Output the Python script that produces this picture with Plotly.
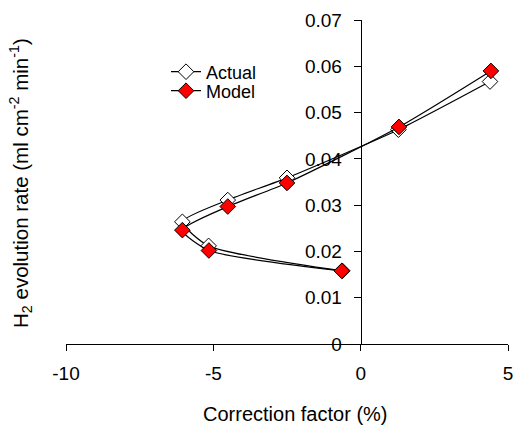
import plotly.graph_objects as go

# Data (ordered by H2 evolution rate)
actual_x = [-0.62, -5.16, -6.05, -4.51, -2.50, 1.28, 4.39]
actual_y = [0.0158, 0.0212, 0.0264, 0.0311, 0.0359, 0.0463, 0.0567]
model_x = [-0.64, -5.15, -6.05, -4.51, -2.50, 1.30, 4.42]
model_y = [0.0158, 0.0202, 0.0246, 0.0297, 0.0348, 0.0469, 0.0590]

x_ticks = [-10, -5, 0, 5]
x_tick_labels = ["-10", "-5", "0", "5"]
y_ticks = [0, 0.01, 0.02, 0.03, 0.04, 0.05, 0.06, 0.07]
y_tick_labels = ["0", "0.01", "0.02", "0.03", "0.04", "0.05", "0.06", "0.07"]

FONT = "Liberation Sans, Arial, sans-serif"

W, H = 515, 425
ML, MR, MT, MB = 66, 7, 20, 81
pw = W - ML - MR
ph = H - MT - MB


def px_x(p):
    return (p - ML) / pw


def px_y(p):
    return (H - MB - p) / ph


fig = go.Figure()
fig.add_trace(go.Scatter(
    x=actual_x, y=actual_y, name="Actual", mode="lines+markers", legend="legend",
    line=dict(color="black", width=1.2, shape="spline", smoothing=0.6),
    marker=dict(symbol="diamond", size=12, color="white", line=dict(color="black", width=1)),
))
fig.add_trace(go.Scatter(
    x=model_x, y=model_y, name="Model", mode="lines+markers", legend="legend2",
    line=dict(color="black", width=1.2, shape="spline", smoothing=0.6),
    marker=dict(symbol="diamond", size=12, color="red", line=dict(color="black", width=1)),
))

leg_common = dict(xanchor="left", yanchor="middle", bgcolor="rgba(0,0,0,0)",
                  font=dict(size=18), borderwidth=0)

fig.update_layout(
    width=W, height=H,
    margin=dict(l=ML, r=MR, t=MT, b=MB, autoexpand=False),
    paper_bgcolor="white", plot_bgcolor="white",
    font=dict(family=FONT, size=18, color="black"),
    showlegend=True,
    legend=dict(x=px_x(166), y=px_y(72), **leg_common),
    legend2=dict(x=px_x(166), y=px_y(91), **leg_common),
    xaxis=dict(range=[-10, 5], tickvals=x_ticks, ticktext=x_tick_labels,
               showgrid=False, zeroline=False, automargin=False,
               showline=True, linecolor="black", linewidth=1,
               ticks="outside", ticklen=6, tickcolor="black",
               ticklabelstandoff=6, tickfont=dict(size=19)),
    yaxis=dict(range=[0, 0.07], tickvals=y_ticks, ticktext=y_tick_labels,
               showgrid=False, zeroline=False, automargin=False,
               showline=True, linecolor="black", linewidth=1,
               ticks="outside", ticklen=7, tickcolor="black",
               ticklabelstandoff=8,
               anchor="free", position=10/15, tickfont=dict(size=19)),
    annotations=[
        dict(text="Correction factor (%)", xref="paper", yref="paper",
             x=px_x(295), y=px_y(414), xanchor="center", yanchor="middle",
             showarrow=False, font=dict(size=20)),
        dict(text="H<sub>2</sub> evolution rate (ml cm<sup>-2</sup> min<sup>-1</sup>)",
             xref="paper", yref="paper", x=px_x(20), y=px_y(183),
             xanchor="center", yanchor="middle",
             showarrow=False, textangle=-90, font=dict(size=20.5)),
    ],
)

fig.write_html("out.html", config={"displayModeBar": False},
               post_script="document.body.style.margin='0';document.body.style.overflow='hidden';")
